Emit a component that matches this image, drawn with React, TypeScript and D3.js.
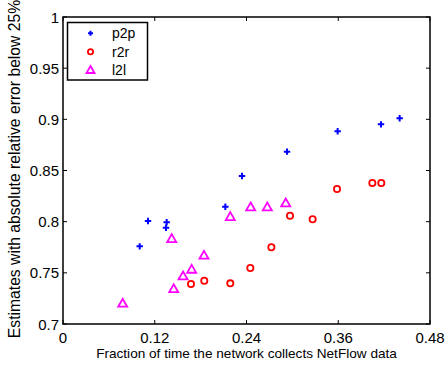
import React from "react";
import * as d3 from "d3";

const xTicks = [0, 0.12, 0.24, 0.36, 0.48];
const yTicks = [0.7, 0.75, 0.8, 0.85, 0.9, 0.95, 1];
const xTickLabels = ["0", "0.12", "0.24", "0.36", "0.48"];
const yTickLabels = ["0.7", "0.75", "0.8", "0.85", "0.9", "0.95", "1"];

const p2pX = [0.1003, 0.1112, 0.1356, 0.1347, 0.2123, 0.2341, 0.293, 0.3592, 0.4159, 0.4403];
const p2pY = [0.7759, 0.8006, 0.7994, 0.794, 0.8146, 0.8446, 0.8684, 0.8883, 0.8951, 0.901];

const r2rX = [0.1674, 0.1848, 0.2188, 0.245, 0.2725, 0.2969, 0.3265, 0.3584, 0.4046, 0.4163];
const r2rY = [0.7391, 0.7423, 0.7397, 0.7547, 0.775, 0.8058, 0.8023, 0.8319, 0.8378, 0.8378];

const l2lX = [0.0781, 0.1448, 0.157, 0.1683, 0.1422, 0.1844, 0.2188, 0.2455, 0.2672, 0.2913];
const l2lY = [0.7202, 0.7345, 0.7469, 0.7534, 0.7834, 0.7671, 0.8049, 0.8143, 0.8143, 0.8182];

const seriesNames = ["p2p", "r2r", "l2l"];

const W = 447, H = 366;
const L = 63, R = 430, T = 17, B = 324;
const FONT = "'Liberation Sans', Arial, Helvetica, sans-serif";

function Plus({ x, y, color, s = 3.2 }: { x: number; y: number; color: string; s?: number }) {
  return (
    <path d={`M${x - s},${y}H${x + s}M${x},${y - s}V${y + s}`} stroke={color} strokeWidth={2} fill="none" />
  );
}
function Circle({ x, y, color, r = 3.1 }: { x: number; y: number; color: string; r?: number }) {
  return <circle cx={x} cy={y} r={r} stroke={color} strokeWidth={1.8} fill="none" />;
}
function Tri({ x, y, color, s = 4.5 }: { x: number; y: number; color: string; s?: number }) {
  return (
    <path d={`M${x},${y - s}L${x + s},${y + s * 0.75}L${x - s},${y + s * 0.75}Z`} stroke={color} strokeWidth={1.8} fill="none" strokeLinejoin="miter" />
  );
}

export default function App() {
  const x = d3.scaleLinear().domain([0, 0.48]).range([L, R]);
  const y = d3.scaleLinear().domain([0.7, 1]).range([B, T]);
  const tl = 4;
  return (
    <svg width={W} height={H} style={{ position: "absolute", left: 0, top: 0, background: "#fff" }} fontFamily={FONT}>
      <rect x={0} y={0} width={W} height={H} fill="#fff" />
      {xTicks.map((t, i) => (
        <g key={"xt" + i}>
          <line x1={x(t)} x2={x(t)} y1={B} y2={B - tl} stroke="#000" strokeWidth={1} />
          <line x1={x(t)} x2={x(t)} y1={T} y2={T + tl} stroke="#000" strokeWidth={1} />
          <text x={x(t)} y={343} fontSize={15} textAnchor="middle" fill="#000">{xTickLabels[i]}</text>
        </g>
      ))}
      {yTicks.map((t, i) => (
        <g key={"yt" + i}>
          <line x1={L} x2={L + tl} y1={y(t)} y2={y(t)} stroke="#000" strokeWidth={1} />
          <line x1={R} x2={R - tl} y1={y(t)} y2={y(t)} stroke="#000" strokeWidth={1} />
          <text x={59} y={y(t) + 5.5} fontSize={15} textAnchor="end" fill="#000">{yTickLabels[i]}</text>
        </g>
      ))}
      <rect x={L} y={T} width={R - L} height={B - T} fill="none" stroke="#000" strokeWidth={1.5} />
      {p2pX.map((v, i) => <Plus key={"p" + i} x={x(v)} y={y(p2pY[i])} color="#0000ff" />)}
      {r2rX.map((v, i) => <Circle key={"r" + i} x={x(v)} y={y(r2rY[i])} color="#ff0000" />)}
      {l2lX.map((v, i) => <Tri key={"l" + i} x={x(v)} y={y(l2lY[i])} color="#ff00ff" />)}
      <rect x={67.5} y={22.5} width={80} height={57.5} fill="#fff" stroke="#000" strokeWidth={1.5} />
      <Plus x={90.5} y={33.3} color="#0000ff" s={2.5} />
      <Circle x={90.5} y={51.7} color="#ff0000" r={2.6} />
      <Tri x={90.5} y={70} color="#ff00ff" s={4} />
      {seriesNames.map((n, i) => (
        <text key={n} x={112} y={[33.3, 51.7, 70][i] + 5} fontSize={14} fill="#000">{n}</text>
      ))}
      <text x={(L + R) / 2} y={358} fontSize={13.6} textAnchor="middle" fill="#000">Fraction of time the network collects NetFlow data</text>
      <text transform={`translate(20,169) rotate(-90)`} x={0} y={0} fontSize={15.7} textAnchor="middle" fill="#000">Estimates with absolute relative error below 25%</text>
    </svg>
  );
}
